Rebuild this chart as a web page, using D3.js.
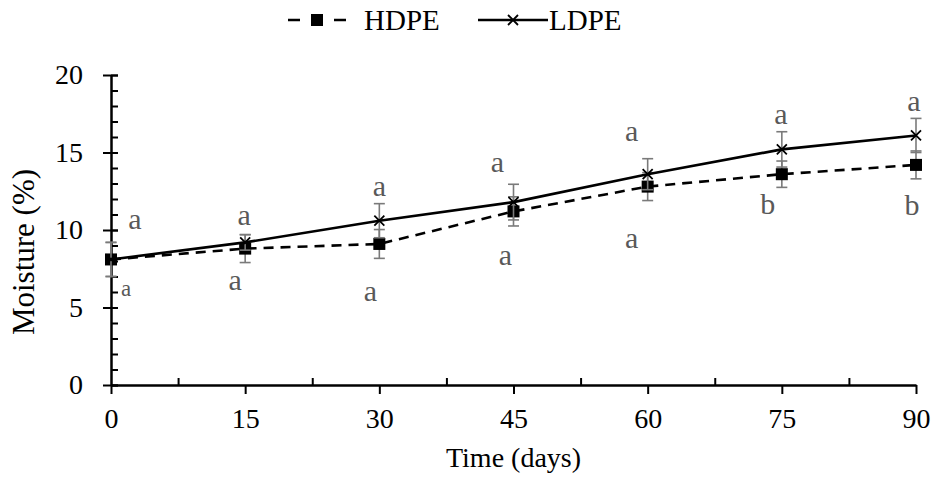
<!DOCTYPE html>
<html>
<head>
<meta charset="utf-8">
<script src="https://cdn.jsdelivr.net/npm/d3@7"></script>
<style>
  body { margin: 0; background: #fff; }
  svg text { font-family: "Liberation Serif", "Times New Roman", serif; }
</style>
</head>
<body>
<div id="chart"></div>
<script>
// data
const days = [0, 15, 30, 45, 60, 75, 90]
const hdpe = [8.1, 8.8, 9.1, 11.2, 12.8, 13.6, 14.2]
const hdpeErr = [1.1, 0.9, 0.93, 0.94, 0.9, 0.85, 0.9]
const ldpe = [8.1, 9.2, 10.6, 11.8, 13.6, 15.2, 16.1]
const ldpeErr = [1.1, 0.5, 1.1, 1.15, 1.0, 1.14, 1.1]
const hdpeLetters = ["a", "a", "a", "a", "a", "b", "b"]
const ldpeLetters = ["a", "a", "a", "a", "a", "a", "a"]
const yTicks = [0, 5, 10, 15, 20]

// hand placement of the letters (px from the point), like in the source figure
const ldpeNudge = [[24, -30], [-1, -17], [0, -25], [-16, -30], [-16, -33], [-1, -25], [-2, -24]]
const hdpeNudge = [[15, 37], [-10, 41], [-9, 57], [-8, 54], [-16, 61], [-14, 40], [-4, 50]]

const W = 933, H = 497
const margin = { top: 75, right: 17, bottom: 112, left: 111 }
const width = W - margin.left - margin.right
const height = H - margin.top - margin.bottom
const fs = 28

const svg = d3.select("#chart").append("svg")
  .attr("width", W).attr("height", H)

const g = svg.append("g")
  .attr("transform", `translate(${margin.left},${margin.top})`)

const x = d3.scaleLinear().domain([0, 90]).range([0, width])
const y = d3.scaleLinear().domain([0, 20]).range([height, 0])

// y axis: minor ticks inside, major ticks across
g.append("g")
  .call(d3.axisLeft(y).tickValues(d3.range(0, 21, 1)).tickSize(-7).tickFormat(""))
  .call(a => a.selectAll("line").attr("stroke", "#000").attr("stroke-width", 2))
  .call(a => a.select(".domain").remove())
const yax = g.append("g")
  .call(d3.axisLeft(y).tickValues(yTicks).tickSizeInner(8).tickSizeOuter(0).tickPadding(20))
yax.selectAll("line").attr("x2", -8).attr("x1", 7).attr("stroke", "#000").attr("stroke-width", 2)
yax.select(".domain").attr("stroke", "#000").attr("stroke-width", 2.5)
yax.selectAll("text").attr("font-size", fs).attr("fill", "#000")

// x axis: minor ticks inside, major outward
g.append("g")
  .attr("transform", `translate(0,${height})`)
  .call(d3.axisBottom(x).tickValues(d3.range(7.5, 90, 15)).tickSize(-7).tickFormat(""))
  .call(a => a.selectAll("line").attr("stroke", "#000").attr("stroke-width", 2))
  .call(a => a.select(".domain").remove())
const xax = g.append("g")
  .attr("transform", `translate(0,${height})`)
  .call(d3.axisBottom(x).tickValues(days).tickSizeInner(9).tickSizeOuter(0).tickPadding(14))
xax.selectAll("line").attr("stroke", "#000").attr("stroke-width", 2)
xax.select(".domain").attr("stroke", "#000").attr("stroke-width", 2.5)
xax.selectAll("text").attr("font-size", fs).attr("fill", "#000")

// axis titles
svg.append("text")
  .attr("transform", `translate(34,${margin.top + height / 2 + 22}) rotate(-90)`)
  .attr("text-anchor", "middle").attr("font-size", 31).text("Moisture (%)")
svg.append("text")
  .attr("x", margin.left + width / 2).attr("y", 467)
  .attr("text-anchor", "middle").attr("font-size", fs).text("Time (days)")

const series = [
  { name: "HDPE", vals: hdpe, err: hdpeErr, letters: hdpeLetters, nudge: hdpeNudge, dash: "10,7", marker: "square" },
  { name: "LDPE", vals: ldpe, err: ldpeErr, letters: ldpeLetters, nudge: ldpeNudge, dash: null, marker: "cross" }
]

const line = d3.line().x(d => x(d.day)).y(d => y(d.v))

const drawMarker = (sel, type) => {
  if (type === "square") {
    sel.append("rect").attr("x", -6).attr("y", -6).attr("width", 12).attr("height", 12).attr("fill", "#000")
  } else {
    sel.append("path").attr("d", "M-5,-5L5,5M-5,5L5,-5").attr("stroke", "#000").attr("stroke-width", 1.8).attr("fill", "none")
  }
}

series.forEach(s => {
  const pts = days.map((d, i) => ({ day: d, v: s.vals[i], e: s.err[i], letter: s.letters[i], n: s.nudge[i] }))

  // error bars
  const eb = g.append("g").selectAll("g").data(pts).join("g")
    .attr("stroke", "#7a7a7a").attr("stroke-width", 1.6)
  eb.append("line")
    .attr("x1", d => x(d.day)).attr("x2", d => x(d.day))
    .attr("y1", d => y(d.v - d.e)).attr("y2", d => y(d.v + d.e))
  eb.append("line")
    .attr("x1", d => x(d.day) - 5.5).attr("x2", d => x(d.day) + 5.5)
    .attr("y1", d => y(d.v + d.e)).attr("y2", d => y(d.v + d.e))
  eb.append("line")
    .attr("x1", d => x(d.day) - 5.5).attr("x2", d => x(d.day) + 5.5)
    .attr("y1", d => y(d.v - d.e)).attr("y2", d => y(d.v - d.e))

  g.append("path").datum(pts)
    .attr("d", line).attr("fill", "none").attr("stroke", "#000")
    .attr("stroke-width", 2.6).attr("stroke-dasharray", s.dash)

  g.append("g").selectAll("g").data(pts).join("g")
    .attr("transform", d => `translate(${x(d.day)},${y(d.v)})`)
    .each(function () { drawMarker(d3.select(this), s.marker) })

  g.append("g").selectAll("text").data(pts).join("text")
    .attr("x", d => x(d.day) + d.n[0]).attr("y", d => y(d.v) + d.n[1])
    .attr("text-anchor", "middle").attr("fill", "#595959")
    .attr("font-size", (d, i) => (s.name === "HDPE" && i === 0 ? 23 : 30))
    .text(d => d.letter)
})

// legend
const leg = svg.append("g").attr("transform", "translate(0,20)")
const items = [
  { s: series[0], x0: 288, x1: 346, tx: 364, dash: "12,11" },
  { s: series[1], x0: 478, x1: 548, tx: 549, dash: null }
]
items.forEach(it => {
  leg.append("line").attr("x1", it.x0).attr("x2", it.x1)
    .attr("stroke", "#000").attr("stroke-width", 2.6).attr("stroke-dasharray", it.dash)
  const m = leg.append("g").attr("transform", `translate(${(it.x0 + it.x1) / 2},0)`)
  drawMarker(m, it.s.marker)
  leg.append("text").attr("x", it.tx).attr("y", 10).attr("font-size", 29).text(it.s.name)
})
</script>
</body>
</html>
